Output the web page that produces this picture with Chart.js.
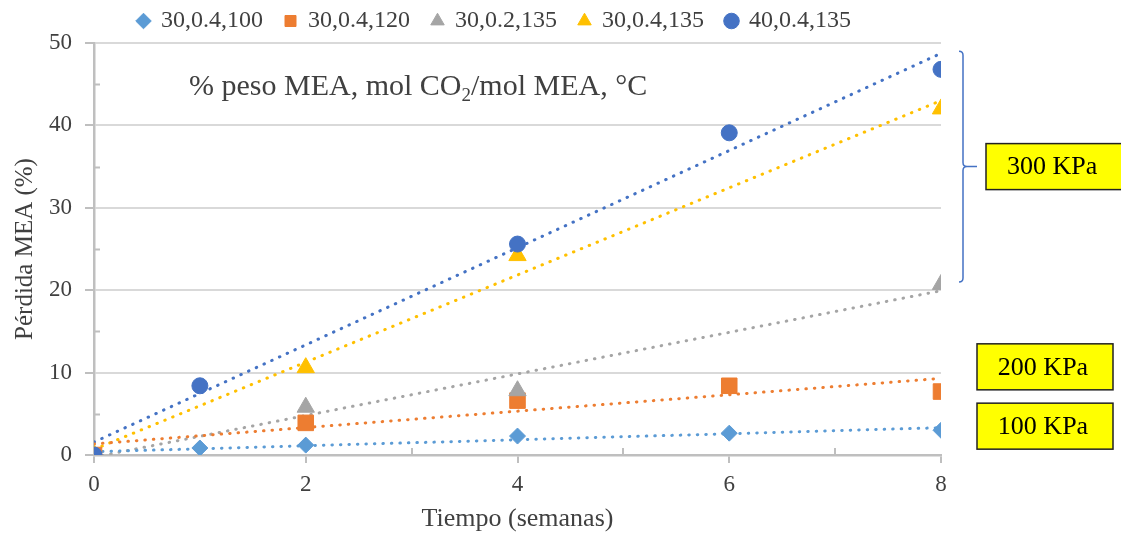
<!DOCTYPE html>
<html>
<head>
<meta charset="utf-8">
<title>Pérdida MEA</title>
<script src="https://cdn.jsdelivr.net/npm/chart.js@4.4.0/dist/chart.umd.min.js"></script>
<style>
  html, body { margin: 0; padding: 0; background: #fff; }
  #wrap { width: 1121px; height: 537px; position: relative; }
</style>
</head>
<body>
<div id="wrap"><canvas id="chart"></canvas></div>
<script>
// series labels: % peso MEA, mol CO2/mol MEA, °C
const seriesLabels = ['30,0.4,100', '30,0.4,120', '30,0.2,135', '30,0.4,135', '40,0.4,135'];

// tiempo (semanas) / pérdida MEA (%)
const x100 = [0, 1, 2, 4, 6, 8];
const y100 = [0, 0.85, 1.2, 2.3, 2.65, 3.0];
const x120 = [0, 2, 4, 6, 8];
const y120 = [0, 3.9, 6.6, 8.4, 7.7];
const x135low = [0, 2, 4, 8];
const y135low = [0, 5.8, 7.8, 20.7];
const x135 = [0, 2, 4, 8];
const y135 = [0, 10.6, 24.2, 42.0];
const x40 = [0, 1, 4, 6, 8];
const y40 = [0, 8.4, 25.6, 39.1, 46.8];

const xTicks = [0, 2, 4, 6, 8];
const yTicks = [0, 10, 20, 30, 40, 50];

const colors = ['#5B9BD5', '#ED7D31', '#A5A5A5', '#FFC000', '#4472C4'];
const styles = ['rectRot', 'rect', 'triangle', 'triangle', 'circle'];
const radii = [8, 11, 10, 10, 8];

const xs = [x100, x120, x135low, x135, x40];
const ys = [y100, y120, y135low, y135, y40];

const SERIF = '"Liberation Serif", "Times New Roman", serif';
const TXT = '#404040';

// least squares line, like the Excel linear trendline
function linFit(xv, yv) {
  const n = xv.length;
  const mx = xv.reduce((a, b) => a + b, 0) / n;
  const my = yv.reduce((a, b) => a + b, 0) / n;
  let sxy = 0, sxx = 0;
  for (let i = 0; i < n; i++) {
    sxy += (xv[i] - mx) * (yv[i] - my);
    sxx += (xv[i] - mx) * (xv[i] - mx);
  }
  const m = sxy / sxx;
  return { m, b: my - m * mx };
}

const xMin = xTicks[0], xMax = xTicks[xTicks.length - 1];
const datasets = [];
seriesLabels.forEach((lab, i) => {
  datasets.push({
    type: 'scatter',
    label: lab,
    data: xs[i].map((x, j) => ({ x, y: ys[i][j] })),
    pointStyle: styles[i],
    pointRadius: radii[i],
    pointHoverRadius: radii[i],
    backgroundColor: colors[i],
    borderColor: colors[i],
    borderWidth: 1,
    order: 5 - i
  });
});
seriesLabels.forEach((lab, i) => {
  const f = linFit(xs[i], ys[i]);
  datasets.push({
    type: 'line',
    label: 'trend ' + lab,
    trend: true,
    data: [{ x: xMin, y: f.b }, { x: xMax, y: f.m * xMax + f.b }],
    borderColor: colors[i],
    borderWidth: 3,
    borderDash: [0.5, 8],
    borderCapStyle: 'round',
    pointRadius: 0,
    fill: false,
    order: 10
  });
});

// pressure annotations on the right side
const pressureBoxes = [
  { text: '300 KPa', from: 49, to: 21, brace: true },
  { text: '200 KPa', at: 10.7 },
  { text: '100 KPa', at: 3.5 }
];

// minor ticks + brace + boxes + inner title
const extras = {
  id: 'extras',
  afterLayout(chart) {
    // Excel centres the legend a little to the right
    chart.legend.left += 24;
    chart.legend.right += 24;
  },
  beforeDatasetsDraw(chart) {
    const { ctx, chartArea: a, scales: { x, y } } = chart;
    ctx.save();
    ctx.strokeStyle = '#BFBFBF';
    ctx.lineWidth = 2;
    ctx.beginPath();
    for (let v = 5; v < 50; v += 10) {
      const py = Math.round(y.getPixelForValue(v)) + 0.5;
      ctx.moveTo(a.left, py); ctx.lineTo(a.left + 6, py);
    }
    for (let v = 1; v < 8; v += 2) {
      const px = Math.round(x.getPixelForValue(v));
      ctx.moveTo(px, a.bottom); ctx.lineTo(px, a.bottom - 7);
    }
    ctx.stroke();
    ctx.restore();
  },
  afterDraw(chart) {
    const { ctx, chartArea: a, scales: { y } } = chart;
    ctx.save();

    // title inside the plot
    ctx.fillStyle = TXT;
    ctx.textBaseline = 'alphabetic';
    let tx = a.left + 95;
    const ty = a.top + 52;
    ctx.font = '30px ' + SERIF;
    const part1 = '% peso MEA, mol CO';
    ctx.fillText(part1, tx, ty);
    tx += ctx.measureText(part1).width;
    ctx.font = '19px ' + SERIF;
    ctx.fillText('2', tx, ty + 6);
    tx += ctx.measureText('2').width;
    ctx.font = '30px ' + SERIF;
    ctx.fillText('/mol MEA, °C', tx, ty);

    // brace for the 300 KPa group
    const b = pressureBoxes[0];
    const top = y.getPixelForValue(b.from), bot = y.getPixelForValue(b.to);
    const mid = (top + bot) / 2;
    const bx = a.right + 22, r = 4;
    ctx.strokeStyle = '#4472C4';
    ctx.lineWidth = 1.5;
    ctx.beginPath();
    ctx.moveTo(bx - 4, top);
    ctx.quadraticCurveTo(bx, top, bx, top + r);
    ctx.lineTo(bx, mid - r);
    ctx.quadraticCurveTo(bx, mid, bx + 4, mid);
    ctx.lineTo(bx + 14, mid);
    ctx.moveTo(bx + 4, mid);
    ctx.quadraticCurveTo(bx, mid, bx, mid + r);
    ctx.lineTo(bx, bot - r);
    ctx.quadraticCurveTo(bx, bot, bx - 4, bot);
    ctx.stroke();

    // yellow labels
    ctx.font = '26px ' + SERIF;
    ctx.textBaseline = 'middle';
    ctx.lineWidth = 1.5;
    ctx.strokeStyle = '#222';
    pressureBoxes.forEach(p => {
      let left, w, cy;
      if (p.brace) {
        left = a.right + 45; w = 150; cy = mid;
      } else {
        left = a.right + 36; w = 136; cy = y.getPixelForValue(p.at);
      }
      const h = 46;
      ctx.fillStyle = '#FFFF00';
      ctx.fillRect(left, cy - h / 2, w, h);
      ctx.strokeRect(left, cy - h / 2, w, h);
      ctx.fillStyle = '#000';
      if (p.brace) {
        ctx.textAlign = 'left';
        ctx.fillText(p.text, left + 21, cy + 1);
      } else {
        ctx.textAlign = 'center';
        ctx.fillText(p.text, left + w / 2 - 2, cy + 1);
      }
    });
    ctx.restore();
  }
};

new Chart(document.getElementById('chart'), {
  data: { datasets },
  plugins: [extras],
  options: {
    responsive: true,
    maintainAspectRatio: false,
    animation: false,
    layout: { padding: { top: -13, right: 180, left: 0, bottom: 0 } },
    plugins: {
      tooltip: { enabled: false },
      legend: {
        position: 'top',
        labels: {
          usePointStyle: true,
          boxWidth: 11,
          boxHeight: 11,
          padding: 22,
          color: TXT,
          font: { family: SERIF, size: 24 },
          filter: (item, data) => !data.datasets[item.datasetIndex].trend,
          sort: (a, b) => a.datasetIndex - b.datasetIndex
        }
      }
    },
    scales: {
      x: {
        type: 'linear',
        min: xMin,
        max: xMax,
        afterFit: s => { s.height = 82; },
        afterBuildTicks: s => { s.ticks = xTicks.map(v => ({ value: v })); },
        border: { color: '#BFBFBF', width: 2.5 },
        grid: { drawOnChartArea: false, drawTicks: true, tickLength: 8, tickColor: '#BFBFBF', lineWidth: 2 },
        ticks: { color: TXT, font: { family: SERIF, size: 23 }, padding: 8, maxRotation: 0 },
        title: { display: true, text: 'Tiempo (semanas)', color: TXT, font: { family: SERIF, size: 26 }, padding: { top: 0, bottom: 2 } }
      },
      y: {
        type: 'linear',
        min: yTicks[0],
        max: yTicks[yTicks.length - 1],
        afterFit: s => { s.width = 94; },
        afterBuildTicks: s => { s.ticks = yTicks.map(v => ({ value: v })); },
        border: { color: '#BFBFBF', width: 2.5 },
        grid: { color: '#D9D9D9', lineWidth: 2, tickLength: 9, tickColor: '#BFBFBF' },
        ticks: { color: TXT, font: { family: SERIF, size: 23 }, padding: 13 },
        title: { display: true, text: 'Pérdida MEA (%)', color: TXT, font: { family: SERIF, size: 25 }, padding: { top: 10, bottom: 0 } }
      }
    }
  }
});
</script>
</body>
</html>
